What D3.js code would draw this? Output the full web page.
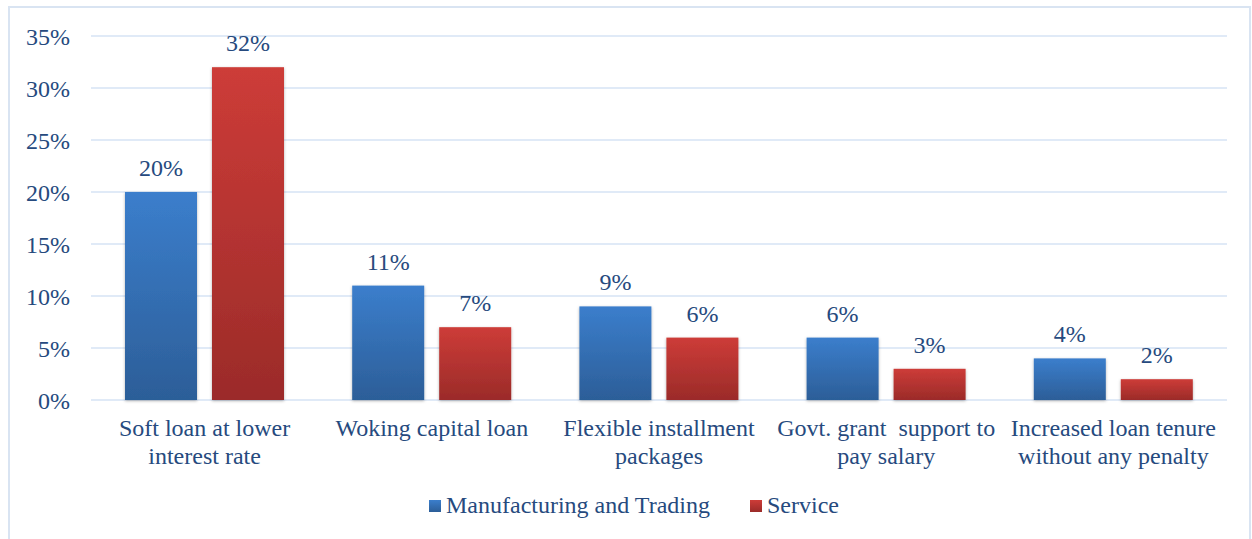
<!DOCTYPE html>
<html><head><meta charset="utf-8">
<script src="https://cdn.jsdelivr.net/npm/d3@7"></script>
<style>body{margin:0;background:#fff}svg{display:block}text{font-family:"Liberation Serif","Times New Roman",serif;fill:#264a7e}</style>
</head><body><svg id="c" width="1252" height="539"></svg>
<script>
const categories = [["Soft loan at lower","interest rate"],["Woking capital loan"],["Flexible installment","packages"],["Govt. grant  support to","pay salary"],["Increased loan tenure","without any penalty"]];
const seriesNames = ["Manufacturing and Trading","Service"];
const manufacturing = [20,11,9,6,4];
const service = [32,7,6,3,2];
const yTicks = [0,5,10,15,20,25,30,35];

const FS = "24px";
const svg = d3.select("#c");
const defs = svg.append("defs");
const grads = [["gBlue","#3b7ecc","#2c5e98"],["gRed","#cd3c38","#9b2b29"]];
grads.forEach(([id,a,b])=>{const g=defs.append("linearGradient").attr("id",id).attr("x1",0).attr("y1",0).attr("x2",0).attr("y2",1);g.append("stop").attr("offset","0%").attr("stop-color",a);g.append("stop").attr("offset","100%").attr("stop-color",b);});
const f=defs.append("filter").attr("id","sh").attr("x","-20%").attr("y","-10%").attr("width","140%").attr("height","130%");
f.append("feDropShadow").attr("dx",0).attr("dy",1).attr("stdDeviation",1.8).attr("flood-color","#000").attr("flood-opacity",0.3);

svg.append("rect").attr("x",9).attr("y",7).attr("width",1241).attr("height",540).attr("fill","none").attr("stroke","#d9e4f2").attr("stroke-width",2);

const x0 = d3.scaleBand().domain(d3.range(categories.length)).range([91,1227]).paddingInner(0).paddingOuter(0);
const x1 = d3.scaleBand().domain([0,1]).range([34, 193]).paddingInner(0.1724);
const y = d3.scaleLinear().domain([0,35]).range([400,36]);

svg.append("g").selectAll("line").data(yTicks).join("line")
 .attr("x1",91).attr("x2",1227).attr("y1",d=>y(d)).attr("y2",d=>y(d)).attr("stroke","#d6e3f4").attr("stroke-width",1.5);

const yAxis = d3.axisLeft(y).tickValues(yTicks).tickFormat(d=>d+"%").tickSize(0).tickPadding(0);
const ya = svg.append("g").attr("transform","translate(70,0)").call(yAxis);
ya.select(".domain").remove();
ya.selectAll("text").style("font-size",FS).attr("dy","0.35em").style("font-family","Liberation Serif").attr("fill","#264a7e");

const data = [manufacturing, service];
data.forEach((vals,si)=>{
  const g = svg.append("g");
  g.selectAll("rect").data(vals).join("rect")
   .attr("x",(d,i)=>x0(i)+x1(si)).attr("width",x1.bandwidth())
   .attr("y",d=>y(d)).attr("height",d=>y(0)-y(d))
   .attr("fill",`url(#${grads[si][0]})`).attr("filter","url(#sh)");
  g.selectAll("text").data(vals).join("text")
   .attr("x",(d,i)=>x0(i)+x1(si)+x1.bandwidth()/2).attr("y",d=>y(d)-16)
   .attr("text-anchor","middle").style("font-size",FS).text(d=>d+"%");
});

const xl = svg.append("g");
categories.forEach((lines,i)=>{
  const t = xl.append("text").attr("x",x0(i)+x0.bandwidth()/2).attr("y",436).attr("text-anchor","middle").style("font-size",FS).attr("xml:space","preserve");
  lines.forEach((l,j)=>t.append("tspan").attr("x",x0(i)+x0.bandwidth()/2).attr("dy",j?28:0).style("white-space","pre").text(l));
});

const lg = svg.append("g");
const lx=[429,750];
seriesNames.forEach((n,i)=>{
  lg.append("rect").attr("x",lx[i]).attr("y",500).attr("width",12).attr("height",12).attr("fill",`url(#${grads[i][0]})`);
  lg.append("text").attr("x",lx[i]+17).attr("y",513).style("font-size",FS).text(n);
});
</script></body></html>
